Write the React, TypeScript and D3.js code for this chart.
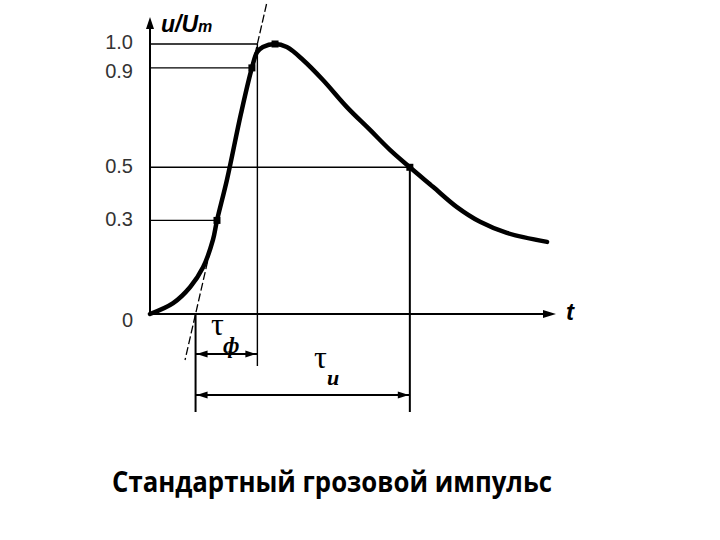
import React from "react";
import * as d3 from "d3";

// impulse shape u/Um against time (arbitrary units, 0..100 along the t axis)
const times = [0, 5.7, 9.9, 13.1, 15.5, 16.5, 19.0, 22.4, 25.1, 26.4, 27.8, 30.8, 33.7, 37.7, 42.6, 48.5, 54.2, 59.1, 64.0, 69.7, 75.6, 81.3, 87.9, 97.8];
const values = [0, 0.026, 0.073, 0.137, 0.23, 0.3, 0.455, 0.712, 0.9, 0.966, 0.987, 1.0, 0.987, 0.933, 0.85, 0.739, 0.647, 0.568, 0.5, 0.425, 0.349, 0.295, 0.255, 0.223];

const yTicks = [0, 0.3, 0.5, 0.9, 1.0];
const yTickLabels = ["0", "0.3", "0.5", "0.9", "1.0"];

// marked points on the curve
const t03 = 16.5;
const t09 = 25.1;
const tPeak = 30.8;
const t05 = 64.0;

const title = "Стандартный грозовой импульс";

const x = d3.scaleLinear().domain([0, 100]).range([150, 556]);
const y = d3.scalePow().exponent(0.88).domain([0, 1]).range([314, 44]);

function arrowHead(tipX: number, tipY: number, dir: "left" | "right" | "up", len: number, half: number) {
  if (dir === "up") return `M${tipX},${tipY}L${tipX - half},${tipY + len}L${tipX + half},${tipY + len}Z`;
  const s = dir === "right" ? -1 : 1;
  return `M${tipX},${tipY}L${tipX + s * len},${tipY - half}L${tipX + s * len},${tipY + half}Z`;
}

export default function App() {
  const line = d3
    .line<number>()
    .x((_, i) => x(times[i]))
    .y((d) => y(d))
    .curve(d3.curveCatmullRom.alpha(0.5));

  // front tangent through the 0.3 and 0.9 points
  const ax = x(t03), ay = y(0.3);
  const bx = x(t09), by = y(0.9);
  const k = (bx - ax) / (by - ay);
  const xAt = (py: number) => ax + (py - ay) * k;
  const x0 = xAt(y(0)); // virtual origin
  const x1 = xAt(y(1)); // crossing with 1.0
  const x5 = x(t05);

  const dimF = 354;
  const dimI = 395;
  const serif = "Liberation Serif, Times New Roman, serif";
  const sans = "Liberation Sans, Arial, sans-serif";

  return (
    <svg width={720} height={540} style={{ position: "absolute", left: 0, top: 0, background: "#fff" }}>
      {/* axes */}
      <line x1={x(0)} y1={y(0)} x2={x(0)} y2={26} stroke="#000" strokeWidth={2} />
      <path d={arrowHead(x(0), 17, "up", 12, 4)} fill="#000" />
      <line x1={x(0)} y1={y(0)} x2={544} y2={y(0)} stroke="#000" strokeWidth={2} />
      <path d={arrowHead(556, y(0), "right", 13, 4)} fill="#000" />

      {/* level lines */}
      <line x1={x(0)} x2={x1} y1={y(1)} y2={y(1)} stroke="#000" strokeWidth={1.4} />
      <line x1={x(0)} x2={x(t09)} y1={y(0.9)} y2={y(0.9)} stroke="#000" strokeWidth={1.4} />
      <line x1={x(0)} x2={x5} y1={y(0.5)} y2={y(0.5)} stroke="#000" strokeWidth={1.4} />
      <line x1={x(0)} x2={x(t03)} y1={y(0.3)} y2={y(0.3)} stroke="#000" strokeWidth={1.4} />

      {/* verticals */}
      <line x1={x1} x2={x1} y1={y(1)} y2={366} stroke="#000" strokeWidth={1.4} />
      <line x1={x0} x2={x0} y1={y(0)} y2={412} stroke="#000" strokeWidth={2} />
      <line x1={x5} x2={x5} y1={y(0.5)} y2={412} stroke="#000" strokeWidth={2} />

      {/* tangent */}
      <line x1={xAt(4)} y1={4} x2={xAt(360)} y2={360} stroke="#000" strokeWidth={1.3} strokeDasharray="8,3" />

      {/* curve */}
      <path d={line(values) ?? ""} fill="none" stroke="#000" strokeWidth={4.5} strokeLinejoin="round" strokeLinecap="round" />
      {[t03, t09, tPeak, t05].map((t, i) => (
        <rect key={i} x={x(t) - 3.5} y={y([0.3, 0.9, 1, 0.5][i]) - 3.5} width={7} height={7} fill="#000" />
      ))}

      {/* dimension arrows */}
      <line x1={x0} x2={x1} y1={dimF} y2={dimF} stroke="#000" strokeWidth={2} />
      <path d={arrowHead(x0 + 1, dimF, "left", 11, 3.5)} fill="#000" />
      <path d={arrowHead(x1 - 1, dimF, "right", 11, 3.5)} fill="#000" />
      <line x1={x0} x2={x5} y1={dimI} y2={dimI} stroke="#000" strokeWidth={2} />
      <path d={arrowHead(x0 + 1, dimI, "left", 11, 3.5)} fill="#000" />
      <path d={arrowHead(x5 - 1, dimI, "right", 11, 3.5)} fill="#000" />

      {/* tick labels */}
      {yTicks.map((v, i) => (
        <text
          key={v}
          x={133}
          y={y(v) + (v === 0 ? 8 : v === 0.9 ? 5 : 0)}
          textAnchor="end"
          dominantBaseline="middle"
          fontFamily={sans}
          fontSize={20}
          fill="#333"
        >
          {yTickLabels[i]}
        </text>
      ))}

      {/* axis titles */}
      <text x={161} y={32} fontFamily={sans} fontStyle="italic" fontWeight="bold" fontSize={23}>
        u/U<tspan fontSize={16}>m</tspan>
      </text>
      <text x={566} y={320} fontFamily={sans} fontStyle="italic" fontWeight="bold" fontSize={24}>
        t
      </text>

      {/* tau labels */}
      <text x={211} y={335} fontFamily={serif} fontSize={32}>
        τ
      </text>
      <text x={223} y={353} fontFamily={serif} fontStyle="italic" fontWeight="bold" fontSize={23}>
        ф
      </text>
      <text x={314} y={368} fontFamily={serif} fontSize={32}>
        τ
      </text>
      <text x={327} y={385} fontFamily={serif} fontStyle="italic" fontWeight="bold" fontSize={22}>
        и
      </text>

      {/* caption */}
      <text
        x={112}
        y={492}
        fontFamily="Open Sans, Noto Sans, sans-serif"
        fontWeight={700}
        fontSize={28}
        textLength={440}
        lengthAdjust="spacingAndGlyphs"
      >
        {title}
      </text>
    </svg>
  );
}
